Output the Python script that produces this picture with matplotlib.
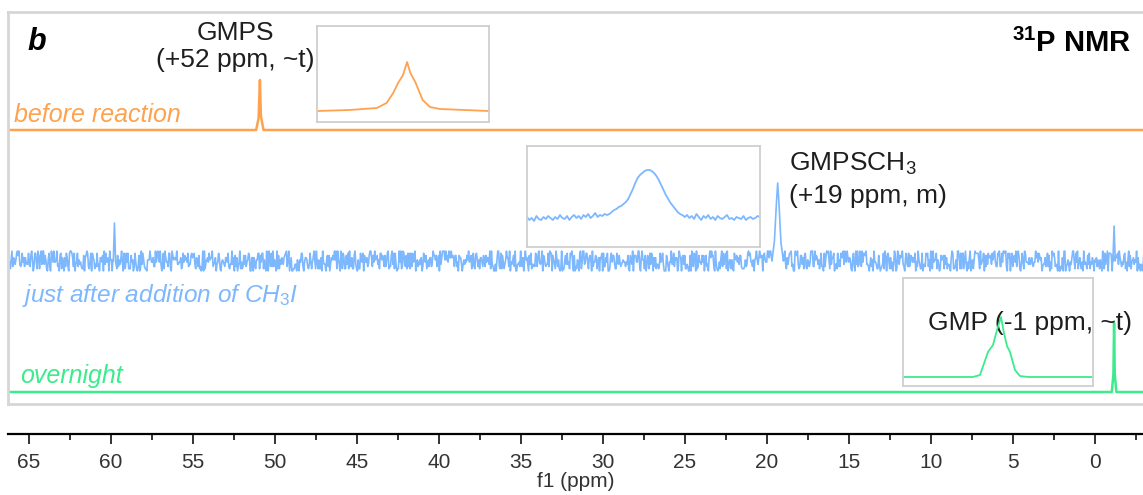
import numpy as np
import matplotlib.pyplot as plt
from matplotlib.ticker import MultipleLocator

plt.rcParams['font.family'] = ['Liberation Sans', 'DejaVu Sans']
plt.rcParams['mathtext.fontset'] = 'custom'
plt.rcParams['mathtext.rm'] = 'Liberation Sans'
plt.rcParams['mathtext.it'] = 'Liberation Sans:italic'
plt.rcParams['mathtext.bf'] = 'Liberation Sans:bold'

# ---- data (ppm, intensity) ----
# before reaction: GMPS
orange_ppm = [66.3, 51.15, 51.0, 50.92, 50.86, 50.7, -3.4]
orange_int = [0, 0, 12, 50, 14, 0, 0]
# inset of GMPS peak
orange_in_ppm = [52.0, 51.6, 51.27, 51.15, 51.07, 51.01, 50.95, 50.90, 50.86, 50.80, 50.77,
                 50.71, 50.62, 50.50, 50.2, 49.90]
orange_in_int = [0, 1, 3, 8, 18, 28, 36, 49, 38, 29, 23, 11, 4, 2, 1, 0]

# just after CH3I: baseline noise (digits 0-9, hand-typed texture) + peaks
blue_noise = ("314159265358979323846264338327950288419716939937510582097494459"
              "230781640628620899862803482534211706798214808651328230664709384"
              "460955058223172535940812848111745028410270193852110555964462294"
              "895493038196442881097566593344612847564823378678316527120190914"
              "564856692346034861045432664821339360726024914127372458700660631"
              "558817488152092096282925409171536436789259036001133053054882046"
              "652138414695194151160943305727036575959195309218611738193261179"
              "310511854807446237996274956735188575272489122793818301194912983"
              "271828182845904523536028747135266249775724709369995957496696762"
              "772407663035354759457138217852516642742746639193200305992181741"
              "359662904357290033429526059563073813232862794349076323382988075"
              "319525101901157383418793070215408914993488416750924476146066808"
              "226480016847741185374234544243710753907774499206955170276183860"
              "626133138458300075204493382656029760673711320070932870912744374"
              "704723069697720931014169283681902551510865746377211125238978442"
              "505695369677078544996996794686445490598793163688923009879312773"
              "617821542499922957635148220826989519366803318252886939849646510"
              "582093923982948879332036250944311730123819706841614039701983767"
              "932068328237646480429531180232878250981945581530175671736133206"
              "981125099618188159304169035159888851934580727386673858942287922"
              "849989208680582574927961048419844436346324496848756023362482704"
              "197862320900216099023530436994184914631409343173814364054625315"
              "209618369088870701676839642437814059271456354906130310720851038")
blue_peaks = [
    ([19.7, 19.55, 19.42, 19.35, 19.28, 19.15, 19.0], [0, 20, 60, 78, 60, 18, 0]),
    ([59.86, 59.79, 59.72], [0, 38, 0]),
    ([-1.09, -1.16, -1.23], [0, 35, 0]),
]
# inset of GMPSCH3 peak (evenly spaced over inset)
blue_in_int = [1, -2, 0, -3, 2, -1, -2, 1, -1, 2, 0, -2, 1, -1, 3, 0, -1, 2, -2, 1,
               3, 0, 2, -1, 3, 1, 4, 0, 2, 5, 1, 3, 2, 4, 3,
               4, 6, 8, 9, 11, 12, 14, 16, 19, 24, 29, 35, 40, 43, 45, 47, 48, 48, 47,
               45, 42, 38, 33, 28, 23, 19, 15, 12, 9, 6, 4, 3,
               1, 3, 0, 2, -1, 4, 1, -2, 2, 0, 3, -1, 1, -2, 2, 0, -1, 1, 3, -1, 0, -2,
               1, 0, -1, 2, -2, 0, 1, -1, 0, 2, 1]

# overnight: GMP
green_ppm = [66.3, -1.02, -1.12, -1.16, -1.20, -1.30, -3.4]
green_int = [0, 0, 18, 69, 18, 0, 0]
green_in_ppm = [-0.2, -0.90, -0.97, -1.05, -1.10, -1.14, -1.18, -1.21, -1.24, -1.27,
                -1.32, -1.37, -1.45, -2.1]
green_in_int = [0, 0, 2, 25, 32, 47, 60, 44, 31, 25, 7, 1, 0, 0]

tick_labels = [65, 60, 55, 50, 45, 40, 35, 30, 25, 20, 15, 10, 5, 0]

c_orange = '#FFA24F'
c_blue = '#7DB8FF'
c_green = '#3CEB8C'
c_frame = '#d6d6d6'
c_text = '#1e1e1e'

W, H = 1143, 495


def rect(x0, y0, x1, y1):
    return [x0 / W, 1 - y1 / H, (x1 - x0) / W, (y1 - y0) / H]


def fpos(x, y):
    return x / W, 1 - y / H


fig = plt.figure(figsize=(W / 100, H / 100), dpi=100)

# main stacked spectra
ax = fig.add_axes(rect(8, 12, 1150, 404))
ax.set_xlim(66.28, -3.35)
ax.set_ylim(0, 392)
for s in ax.spines.values():
    s.set_color(c_frame)
    s.set_linewidth(2)
ax.spines['right'].set_visible(False)
ax.set_xticks([])
ax.set_yticks([])

# offsets (pixels above frame bottom)
off_orange, off_blue, off_green = 274, 143, 12

ax.plot(orange_ppm, np.array(orange_int) + off_orange, color=c_orange, lw=1.8)

d = np.array([int(c) for c in blue_noise])
nx = np.linspace(66.28, -3.35, len(d))
ny = (d - 4.5) * 2.2
keep = np.ones(len(nx), bool)
for px, py in blue_peaks:
    keep &= ~((nx <= max(px)) & (nx >= min(px)))
bx = np.concatenate([nx[keep]] + [np.array(p[0]) for p in blue_peaks])
by = np.concatenate([ny[keep]] + [np.array(p[1], float) for p in blue_peaks])
order = np.argsort(-bx)
ax.plot(bx[order], by[order] + off_blue, color=c_blue, lw=1.2)

ax.plot(green_ppm, np.array(green_int) + off_green, color=c_green, lw=1.8)

# texts
ax.text(*fpos(27, 50), 'b', transform=fig.transFigure, fontsize=22,
        fontweight='bold', fontstyle='italic', color='black')
ax.text(*fpos(1131, 52), r'$\mathbf{^{31}P\ NMR}$', transform=fig.transFigure,
        fontsize=21, ha='right', color='black')
ax.text(*fpos(235, 40), 'GMPS', transform=fig.transFigure, fontsize=19,
        ha='center', color=c_text)
ax.text(*fpos(235, 67), '(+52 ppm, ~t)', transform=fig.transFigure, fontsize=19,
        ha='center', color=c_text)
ax.text(*fpos(789, 171), 'GMPSCH$_3$', transform=fig.transFigure, fontsize=19,
        color=c_text)
ax.text(*fpos(789, 203), '(+19 ppm, m)', transform=fig.transFigure, fontsize=19,
        color=c_text)
ax.text(*fpos(928, 330), 'GMP (-1 ppm, ~t)', transform=fig.transFigure, fontsize=19,
        color=c_text)
ax.text(*fpos(14, 122), 'before reaction', transform=fig.transFigure, fontsize=18,
        fontstyle='italic', color=c_orange)
ax.text(*fpos(22, 302), 'just after addition of CH$_\\mathit{3}$I',
        transform=fig.transFigure, fontsize=17.6, fontstyle='italic', color=c_blue)
ax.text(*fpos(20, 383), 'overnight', transform=fig.transFigure, fontsize=18,
        fontstyle='italic', color=c_green)


def inset(r, xs, ys, xlim, ylim, color):
    a = fig.add_axes(r)
    a.patch.set_alpha(0)
    a.plot(xs, ys, color=color, lw=1.3)
    a.set_xlim(*xlim)
    a.set_ylim(*ylim)
    a.set_xticks([])
    a.set_yticks([])
    for s in a.spines.values():
        s.set_color('#cfcfcf')
        s.set_linewidth(1.3)
    return a


inset(rect(317, 26, 489, 122), orange_in_ppm, orange_in_int, (52.0, 49.9), (-11, 85), c_orange)
bxi = np.linspace(20.3, 18.3, len(blue_in_int))
inset(rect(527, 146, 760, 247), bxi, blue_in_int, (20.3, 18.3), (-29, 72), c_blue)
inset(rect(903, 278, 1093, 386), green_in_ppm, green_in_int, (-0.2, -2.1), (-9, 99), c_green)

# ppm axis
ax2 = fig.add_axes([8 / W, 1 - 434 / H, 1135 / W, 0.0001])
ax2.set_xlim(66.28, -2.93)
for k in ['left', 'right', 'top']:
    ax2.spines[k].set_visible(False)
ax2.spines['bottom'].set_linewidth(1.6)
ax2.set_yticks([])
ax2.xaxis.set_minor_locator(MultipleLocator(2.5))
ax2.set_xticks(tick_labels)
ax2.tick_params(axis='x', which='major', length=7.5, width=1.3, labelsize=15,
                pad=6, colors='#222222', labelcolor='#333333')
ax2.tick_params(axis='x', which='minor', length=4, width=1.3, colors='#222222')
ax2.set_xlabel('f1 (ppm)', fontsize=15, labelpad=0, color='#333333')

fig.savefig('out.png', dpi=100)
